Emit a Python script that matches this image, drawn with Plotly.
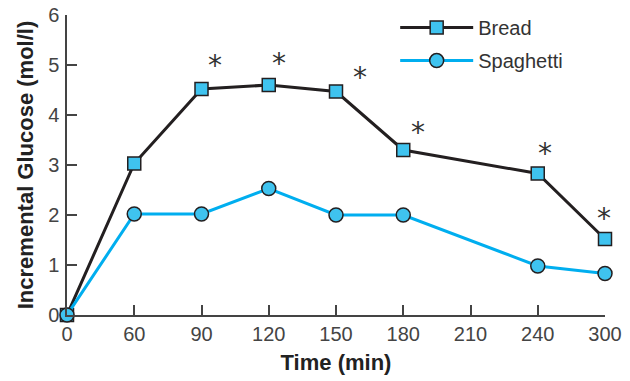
import plotly.graph_objects as go

tick_labels = ["0", "60", "90", "120", "150", "180", "210", "240", "300"]
times = ["0", "60", "90", "120", "150", "180", "240", "300"]
bread = [0, 3.03, 4.52, 4.60, 4.47, 3.30, 2.83, 1.52]
spaghetti = [0, 2.02, 2.02, 2.53, 2.00, 2.00, 0.98, 0.83]
# significance markers: time, height (mol/l), horizontal pixel nudge
star_times = ["90", "120", "150", "180", "240", "300"]
star_y = [5.08, 5.12, 4.84, 3.74, 3.32, 2.02]
star_dx = [13, 10, 24, 15, 7, -1]

fig = go.Figure()
fig.add_trace(go.Scatter(
    x=times, y=bread, name="Bread", mode="lines+markers", legendgroup="a",
    line=dict(color="#231f20", width=3),
    marker=dict(symbol="square", size=13, color="#3fc3ef",
                line=dict(color="#231f20", width=1.5)),
    cliponaxis=False))
fig.add_trace(go.Scatter(
    x=times, y=spaghetti, name="Spaghetti", mode="lines+markers", legendgroup="b",
    line=dict(color="#00aeef", width=3),
    marker=dict(symbol="circle", size=14, color="#3fc3ef",
                line=dict(color="#231f20", width=1.5)),
    cliponaxis=False))

for t, v, dx in zip(star_times, star_y, star_dx):
    fig.add_annotation(x=tick_labels.index(t), y=v, text="*", showarrow=False,
                       xshift=dx, yshift=-4,
                       font=dict(size=28, color="#333333", family="DejaVu Sans"))

fig.update_layout(
    width=622, height=373,
    margin=dict(l=59, r=25, t=7, b=66, autoexpand=False),
    paper_bgcolor="white", plot_bgcolor="white",
    font=dict(family="Liberation Sans, Arial, sans-serif", size=20, color="#333333"),
    showlegend=True,
    legend=dict(x=0.61, y=1.023, xanchor="left", yanchor="top",
                font=dict(size=20, color="#333333"),
                tracegroupgap=4, traceorder="grouped", itemwidth=73,
                bgcolor="rgba(0,0,0,0)"),
    xaxis=dict(
        type="category", categoryorder="array", categoryarray=tick_labels,
        tickvals=tick_labels, ticktext=tick_labels,
        range=[0, 8], showgrid=False, zeroline=False, automargin=False,
        showline=True, linecolor="#444444", linewidth=1.5,
        ticks="inside", ticklen=10, tickcolor="#444444", tickwidth=1.5,
        ticklabeloverflow="allow",
        tickfont=dict(size=20, color="#444444"),
        title=dict(text="<b>Time (min)</b>", font=dict(size=22, color="#222222"), standoff=11)),
    yaxis=dict(
        range=[0, 6], dtick=1, showgrid=False, zeroline=False, automargin=False,
        showline=True, linecolor="#444444", linewidth=1.5,
        ticks="inside", ticklen=10, tickcolor="#444444", tickwidth=1.5,
        ticklabelstandoff=2, ticklabeloverflow="allow",
        tickfont=dict(size=20, color="#444444"),
        title=dict(text="<b>Incremental Glucose (mol/l)</b>", font=dict(size=22, color="#222222"), standoff=8)),
)

fig.write_html("out.html")
